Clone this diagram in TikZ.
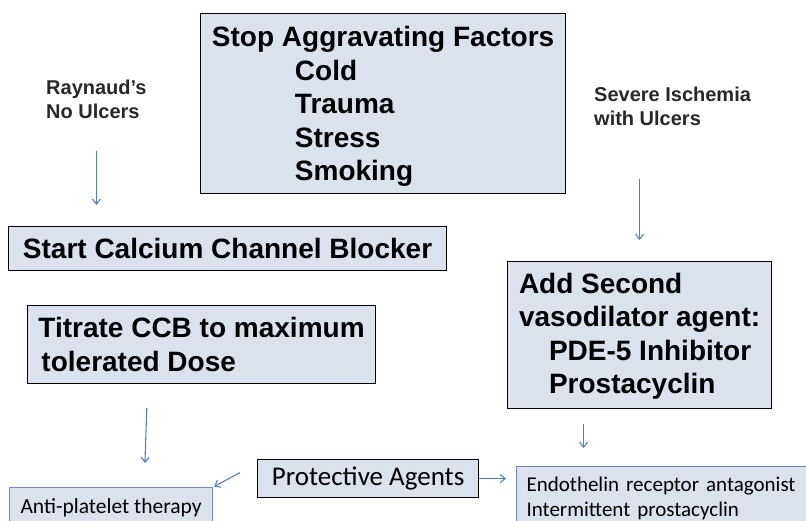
\documentclass[tikz,border=0pt]{standalone}
\usepackage{fontspec}
\setmainfont{Liberation Sans}
\newfontfamily\calibri{Carlito}
\usetikzlibrary{arrows.meta,calc}
\definecolor{boxfill}{RGB}{219,226,237}
\definecolor{arrowblue}{RGB}{79,129,189}
\definecolor{edgeblue}{RGB}{110,140,195}
\definecolor{labelgray}{RGB}{40,40,40}

\begin{document}
\begin{tikzpicture}[x=1pt,y=-1pt,
  stepbox/.style={draw=black,line width=1.2pt,fill=boxfill,anchor=north west,inner xsep=10pt,inner ysep=0pt,align=left,font=\fontsize{28}{33.5}\selectfont\bfseries},
  sidebox/.style={draw=edgeblue,line width=1.2pt,fill=boxfill,anchor=north west,inner xsep=8pt,inner ysep=0pt,align=left,font=\calibri\fontsize{21.5}{25.5}\selectfont},
  cond/.style={anchor=north west,inner sep=0pt,align=left,text=labelgray,font=\fontsize{20}{23.5}\selectfont\bfseries},
  arr/.style={-{Straight Barb[length=5pt,width=8pt]},arrowblue,line width=1.1pt}]
\clip (0,0) rectangle (806,521);
\node[stepbox,minimum width=365pt,minimum height=180pt] (stop) at (200,13) {\rule{0pt}{26pt}Stop Aggravating Factors\\
  \hspace*{83pt}Cold\\ \hspace*{83pt}Trauma\\ \hspace*{83pt}Stress\\ \hspace*{83pt}Smoking};
\node[cond] (ray) at (46,80) {Raynaud's\\No Ulcers};
\node[cond] (sev) at (594,87) {Severe Ischemia\\with Ulcers};
\node[stepbox,minimum width=438pt,minimum height=44pt] (start) at (8,226) {Start Calcium Channel Blocker};
\node[stepbox,minimum width=348pt,minimum height=78pt] (tit) at (27,305) {Titrate CCB to maximum\\ \hspace*{3pt}tolerated Dose};
\node[stepbox,minimum width=264pt,minimum height=147pt] (add) at (507,261) {\rule{0pt}{23pt}Add Second\\vasodilator agent:\\
  \hspace*{30pt}PDE-5 Inhibitor\\ \hspace*{30pt}Prostacyclin};
\node[stepbox,minimum width=221pt,minimum height=38pt,font=\calibri\fontsize{27}{32}\selectfont] (prot) at (257,459) {Protective Agents};
\node[sidebox,minimum width=203pt,minimum height=40pt] (anti) at (9,487) {Anti-platelet therapy};
\node[sidebox,inner xsep=10pt,text width=300pt,minimum height=64pt,font=\calibri\fontsize{21}{25}\selectfont] (endo) at (516,466) {Endothelin receptor antagonist\\Intermittent prostacyclin};
\draw[arr,shorten <=32pt,shorten >=21pt] (ray.south) -- (ray.south |- start.north);
\draw[arr,shorten <=53pt,shorten >=21pt] (sev.south -| add.north) -- (add.north);
\draw[arr,shorten <=24pt,shorten >=24pt] ([xshift=-54pt]tit.south) -- ([xshift=33pt]anti.north);
\draw[arr,shorten <=15pt,shorten >=18pt] ([xshift=-56pt]add.south) -- ([xshift=-56pt]add.south |- endo.north);
\draw[arr,shorten >=1pt] ([shift={(-17,-6)}]prot.west) -- (anti.north east);
\draw[arr,shorten >=10pt] (prot.east) -- (prot.east -| endo.west);
\end{tikzpicture}
\end{document}
